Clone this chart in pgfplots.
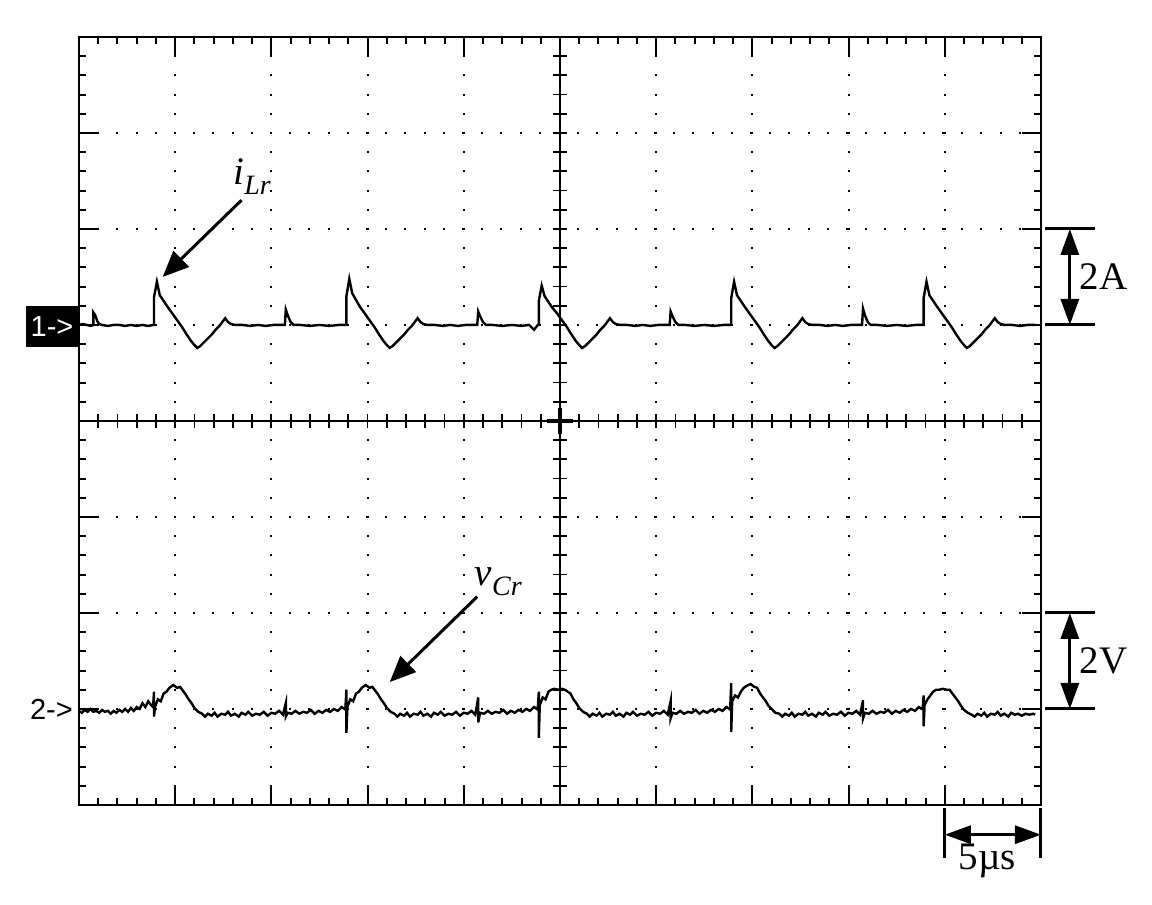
\documentclass[border=0pt]{standalone}
\usepackage{fontspec}
\setmainfont{Liberation Serif}
\newfontfamily\arial{Liberation Sans}
\usepackage{pgfplots}
\pgfplotsset{compat=1.18}
\usetikzlibrary{arrows.meta}

\begin{document}
\begin{tikzpicture}
% centre cross with its own ticks
\begin{axis}[
  scale only axis, width=481pt, height=384pt,
  xmin=-5, xmax=5, ymin=-4, ymax=4,
  axis lines=middle, axis line style={line width=1.2pt, -},
  xtick={-5,...,5}, ytick={-4,...,4},
  minor x tick num=4, minor y tick num=4,
  xticklabels={}, yticklabels={},
  tick align=center, major tick length=7pt, minor tick length=7pt,
  tick style={black, line width=0.9pt},
]
\end{axis}
\begin{axis}[
  scale only axis, width=481pt, height=384pt,
  xmin=0, xmax=10, ymin=0, ymax=8,
  xtick={0,...,10}, ytick={0,...,8},
  minor x tick num=4, minor y tick num=4,
  xticklabels={}, yticklabels={},
  tick align=inside, major tick length=9.5pt, minor tick length=3.5pt,
  tick style={black, line width=1pt},
  grid=major,
  major grid style={black, line width=1pt, dash pattern=on 1pt off 8.6pt, dash phase=0.5pt},
  axis line style={line width=1.3pt},
  clip=false,
]
% page frame
\path (axis cs:-0.821,-1.042) rectangle (axis cs:11.154,8.385);
% centre marker
\draw[line width=1.6pt] (axis cs:4.86,4) -- (axis cs:5.14,4);
\draw[line width=1.6pt] (axis cs:5,3.86) -- (axis cs:5,4.14);

% channel 1: i_Lr
\addplot[black, line width=1.2pt] coordinates {
(0.00,5.00) (0.04,5.01) (0.08,5.00) (0.12,4.99) (0.15,5.00) (0.15,5.13) (0.17,5.10) (0.19,5.04) (0.21,5.01) (0.24,5.00)
(0.30,4.99) (0.36,5.00) (0.42,5.00) (0.48,4.99) (0.54,5.00) (0.60,4.99) (0.66,5.00) (0.72,4.99) (0.77,5.00)
(0.78,5.00) (0.78,5.29) (0.81,5.45) (0.84,5.31) (0.88,5.25) (0.92,5.19) (0.97,5.12) (1.02,5.05) (1.07,4.98) (1.12,4.90)
(1.16,4.84) (1.20,4.79) (1.23,4.76) (1.26,4.78) (1.30,4.82) (1.34,4.86) (1.38,4.90) (1.42,4.95) (1.46,4.99) (1.49,5.03)
(1.52,5.07) (1.55,5.03) (1.58,5.01) (1.62,5.00) (1.70,5.00) (1.78,4.99) (1.86,5.00) (1.94,4.99) (2.02,5.00) (2.10,5.00)
(2.14,5.00) (2.15,5.16) (2.17,5.10) (2.20,5.03) (2.23,5.00) (2.30,5.00) (2.40,4.99) (2.50,5.00) (2.60,4.99) (2.70,5.00) (2.77,5.00)
(2.78,5.00) (2.78,5.30) (2.81,5.48) (2.84,5.33) (2.88,5.26) (2.92,5.19) (2.97,5.12) (3.02,5.05) (3.07,4.98) (3.12,4.90)
(3.16,4.84) (3.20,4.79) (3.23,4.76) (3.26,4.78) (3.30,4.82) (3.34,4.86) (3.38,4.90) (3.42,4.95) (3.46,4.99) (3.49,5.03)
(3.52,5.07) (3.55,5.03) (3.58,5.01) (3.62,5.00) (3.70,5.00) (3.78,4.99) (3.86,5.00) (3.94,4.99) (4.02,5.00) (4.10,5.00)
(4.14,5.00) (4.15,5.14) (4.17,5.09) (4.20,5.03) (4.23,5.00) (4.30,5.00) (4.40,4.99) (4.50,5.00) (4.60,4.99) (4.68,5.00) (4.73,4.95) (4.77,5.00)
(4.78,5.00) (4.78,5.25) (4.81,5.41) (4.84,5.30) (4.88,5.24) (4.92,5.18) (4.97,5.12) (5.02,5.05) (5.07,4.98) (5.12,4.90)
(5.16,4.84) (5.20,4.79) (5.23,4.76) (5.26,4.78) (5.30,4.82) (5.34,4.86) (5.38,4.90) (5.42,4.95) (5.46,4.99) (5.49,5.03)
(5.52,5.07) (5.55,5.03) (5.58,5.01) (5.62,5.00) (5.70,5.00) (5.78,4.99) (5.86,5.00) (5.94,4.99) (6.02,5.00) (6.10,5.00)
(6.14,5.00) (6.15,5.14) (6.17,5.09) (6.20,5.03) (6.23,5.00) (6.30,5.00) (6.40,4.99) (6.50,5.00) (6.60,4.99) (6.70,5.00) (6.77,5.00)
(6.78,5.00) (6.78,5.28) (6.81,5.45) (6.84,5.31) (6.88,5.25) (6.92,5.19) (6.97,5.12) (7.02,5.05) (7.07,4.98) (7.12,4.90)
(7.16,4.84) (7.20,4.79) (7.23,4.76) (7.26,4.78) (7.30,4.82) (7.34,4.86) (7.38,4.90) (7.42,4.95) (7.46,4.99) (7.49,5.03)
(7.52,5.07) (7.55,5.03) (7.58,5.01) (7.62,5.00) (7.70,5.00) (7.78,4.99) (7.86,5.00) (7.94,4.99) (8.02,5.00) (8.10,5.00)
(8.14,5.00) (8.15,5.17) (8.17,5.10) (8.20,5.03) (8.23,5.00) (8.30,5.00) (8.40,4.99) (8.50,5.00) (8.60,4.99) (8.70,5.00) (8.77,5.00)
(8.78,5.00) (8.78,5.28) (8.81,5.45) (8.84,5.31) (8.88,5.25) (8.92,5.19) (8.97,5.12) (9.02,5.05) (9.07,4.98) (9.12,4.90)
(9.16,4.84) (9.20,4.79) (9.23,4.76) (9.26,4.78) (9.30,4.82) (9.34,4.86) (9.38,4.90) (9.42,4.95) (9.46,4.99) (9.49,5.03)
(9.52,5.07) (9.55,5.03) (9.58,5.01) (9.62,5.00) (9.70,5.00) (9.78,4.99) (9.86,5.00) (9.94,5.00)
};

% channel 2: v_Cr
\addplot[black, line width=1.2pt] coordinates {
(0.00,0.98) (0.03,0.96) (0.06,0.99) (0.09,0.97) (0.12,1.00) (0.15,0.97) (0.18,0.98) (0.21,0.96) (0.24,0.99) (0.27,0.97)
(0.30,0.98) (0.33,0.95) (0.36,0.98) (0.39,0.96) (0.42,0.99) (0.45,0.97) (0.48,1.00) (0.51,0.97) (0.54,1.01) (0.57,0.98)
(0.60,1.02) (0.63,1.00) (0.66,1.06) (0.69,1.02) (0.72,1.08) (0.75,1.04) (0.77,1.02)
(0.78,1.18) (0.78,0.92) (0.79,1.02) (0.82,1.10) (0.85,1.08) (0.88,1.16) (0.91,1.18) (0.94,1.22) (0.98,1.25) (1.02,1.22)
(1.05,1.23) (1.08,1.19) (1.11,1.15) (1.14,1.10) (1.17,1.06) (1.20,1.01) (1.24,0.97) (1.28,0.95) (1.31,0.92) (1.34,0.95)
(1.38,0.93) (1.41,0.96) (1.44,0.92) (1.48,0.95) (1.52,0.94) (1.55,0.97) (1.58,0.93) (1.62,0.95) (1.66,0.92) (1.69,0.96)
(1.73,0.94) (1.76,0.97) (1.80,0.93) (1.84,0.95) (1.88,0.94) (1.92,0.97) (1.96,0.93) (2.00,0.96) (2.04,0.95) (2.08,0.98)
(2.12,0.94) (2.15,1.06) (2.15,0.92) (2.17,0.96) (2.21,0.95) (2.25,0.98) (2.29,0.95) (2.33,0.97) (2.37,0.96) (2.41,0.99)
(2.45,0.95) (2.49,0.98) (2.53,0.96) (2.57,0.99) (2.61,0.97) (2.65,1.00) (2.69,0.98) (2.73,1.02) (2.76,1.00)
(2.77,1.02) (2.78,1.20) (2.78,0.75) (2.79,1.02) (2.82,1.10) (2.85,1.08) (2.88,1.16) (2.91,1.18) (2.94,1.22) (2.98,1.25)
(3.02,1.22) (3.05,1.23) (3.08,1.19) (3.11,1.15) (3.14,1.10) (3.17,1.06) (3.20,1.01) (3.24,0.97) (3.28,0.95) (3.31,0.92)
(3.34,0.95) (3.38,0.93) (3.41,0.96) (3.44,0.92) (3.48,0.95) (3.52,0.94) (3.55,0.97) (3.58,0.93) (3.62,0.95) (3.66,0.92)
(3.69,0.96) (3.73,0.94) (3.76,0.97) (3.80,0.93) (3.84,0.95) (3.88,0.94) (3.92,0.97) (3.96,0.93) (4.00,0.96) (4.04,0.95)
(4.08,0.98) (4.12,0.94) (4.15,1.12) (4.15,0.86) (4.17,0.96) (4.21,0.95) (4.25,0.98) (4.29,0.95) (4.33,0.97) (4.37,0.96)
(4.41,0.99) (4.45,0.95) (4.49,0.98) (4.53,0.96) (4.57,0.99) (4.61,0.97) (4.65,1.00) (4.69,0.98) (4.73,1.02) (4.76,1.00)
(4.77,1.02) (4.78,1.18) (4.78,0.70) (4.79,1.04) (4.82,1.12) (4.85,1.10) (4.88,1.18) (4.91,1.20) (4.94,1.21) (4.98,1.20)
(5.02,1.21) (5.05,1.20) (5.08,1.18) (5.11,1.16) (5.14,1.10) (5.17,1.06) (5.20,1.01) (5.24,0.97) (5.28,0.95) (5.31,0.92)
(5.34,0.95) (5.38,0.93) (5.41,0.96) (5.44,0.92) (5.48,0.95) (5.52,0.94) (5.55,0.97) (5.58,0.93) (5.62,0.95) (5.66,0.92)
(5.69,0.96) (5.73,0.94) (5.76,0.97) (5.80,0.93) (5.84,0.95) (5.88,0.94) (5.92,0.97) (5.96,0.93) (6.00,0.96) (6.04,0.95)
(6.08,0.98) (6.12,0.94) (6.15,1.08) (6.15,0.90) (6.17,0.96) (6.21,0.95) (6.25,0.98) (6.29,0.95) (6.33,0.97) (6.37,0.96)
(6.41,0.99) (6.45,0.95) (6.49,0.98) (6.53,0.96) (6.57,0.99) (6.61,0.97) (6.65,1.00) (6.69,0.98) (6.73,1.02) (6.76,1.00)
(6.77,1.02) (6.78,1.27) (6.78,0.76) (6.79,1.08) (6.82,1.14) (6.85,1.12) (6.88,1.18) (6.91,1.22) (6.94,1.24) (6.98,1.26)
(7.02,1.23) (7.05,1.22) (7.08,1.16) (7.11,1.12) (7.14,1.08) (7.17,1.03) (7.20,1.00) (7.24,0.96) (7.28,0.95) (7.31,0.92)
(7.34,0.95) (7.38,0.93) (7.41,0.96) (7.44,0.92) (7.48,0.95) (7.52,0.94) (7.55,0.97) (7.58,0.93) (7.62,0.95) (7.66,0.92)
(7.69,0.96) (7.73,0.94) (7.76,0.97) (7.80,0.93) (7.84,0.95) (7.88,0.94) (7.92,0.97) (7.96,0.93) (8.00,0.96) (8.04,0.95)
(8.08,0.98) (8.12,0.94) (8.15,1.09) (8.15,0.90) (8.17,0.96) (8.21,0.95) (8.25,0.98) (8.29,0.95) (8.33,0.97) (8.37,0.96)
(8.41,0.99) (8.45,0.95) (8.49,0.98) (8.53,0.96) (8.57,0.99) (8.61,0.97) (8.65,1.00) (8.69,0.98) (8.73,1.02) (8.76,1.00)
(8.77,1.00) (8.78,1.14) (8.78,0.82) (8.79,1.04) (8.82,1.10) (8.85,1.14) (8.88,1.18) (8.91,1.20) (8.94,1.20) (8.98,1.21)
(9.02,1.20) (9.05,1.20) (9.08,1.16) (9.11,1.12) (9.14,1.08) (9.17,1.03) (9.20,0.99) (9.24,0.96) (9.28,0.94) (9.31,0.92)
(9.34,0.95) (9.38,0.93) (9.41,0.96) (9.44,0.92) (9.48,0.95) (9.52,0.94) (9.55,0.97) (9.58,0.93) (9.62,0.95) (9.66,0.92)
(9.69,0.96) (9.73,0.94) (9.76,0.95) (9.80,0.93) (9.84,0.95) (9.88,0.94) (9.92,0.95) (9.94,0.94)
};

% channel markers
\node[anchor=east, fill=black, text=white, inner sep=0pt, minimum width=26.5pt, minimum height=20.5pt,
  font=\arial\fontsize{14.5}{14.5}\selectfont] at (axis cs:0,4.98) {1->};
\node[anchor=east, inner sep=0pt, font=\arial\fontsize{14.5}{14.5}\selectfont] at (axis cs:-0.06,1.0) {2->};

% scale bars
\draw[line width=1.5pt] (axis cs:10.04,6) -- (axis cs:10.56,6);
\draw[line width=1.5pt] (axis cs:10.04,5) -- (axis cs:10.56,5);
\draw[line width=1.5pt, {Triangle[length=13pt,width=9pt]}-{Triangle[length=13pt,width=9pt]}] (axis cs:10.30,6) -- (axis cs:10.30,5);
\node[anchor=west, inner sep=0pt, font=\fontsize{19.5}{19.5}\selectfont] at (axis cs:10.40,5.5) {2A};
\draw[line width=1.5pt] (axis cs:10.04,2) -- (axis cs:10.56,2);
\draw[line width=1.5pt] (axis cs:10.04,1) -- (axis cs:10.56,1);
\draw[line width=1.5pt, {Triangle[length=13pt,width=9pt]}-{Triangle[length=13pt,width=9pt]}] (axis cs:10.30,2) -- (axis cs:10.30,1);
\node[anchor=west, inner sep=0pt, font=\fontsize{19.5}{19.5}\selectfont] at (axis cs:10.40,1.5) {2V};
\draw[line width=1.5pt] (axis cs:9,-0.03) -- (axis cs:9,-0.55);
\draw[line width=1.5pt] (axis cs:10,-0.03) -- (axis cs:10,-0.55);
\draw[line width=1.5pt, {Triangle[length=13pt,width=9pt]}-{Triangle[length=13pt,width=9pt]}] (axis cs:9,-0.31) -- (axis cs:10,-0.31);
\node[inner sep=0pt, font=\fontsize{19.5}{19.5}\selectfont] at (axis cs:9.44,-0.58) {5µs};

% trace labels
\draw[line width=1.5pt, -{Triangle[length=13pt,width=11pt]}] (axis cs:1.69,6.30) -- (axis cs:0.87,5.50);
\node[font=\fontsize{19.5}{19.5}\selectfont] at (axis cs:1.80,6.55) {\textit{i}\raisebox{-5pt}{\fontsize{14}{14}\selectfont\textit{Lr}}};
\draw[line width=1.5pt, -{Triangle[length=13pt,width=11pt]}] (axis cs:4.14,2.17) -- (axis cs:3.23,1.28);
\node[font=\fontsize{19.5}{19.5}\selectfont] at (axis cs:4.36,2.33) {\textit{v}\raisebox{-5pt}{\fontsize{14}{14}\selectfont\textit{Cr}}};
\end{axis}
\end{tikzpicture}
\end{document}
